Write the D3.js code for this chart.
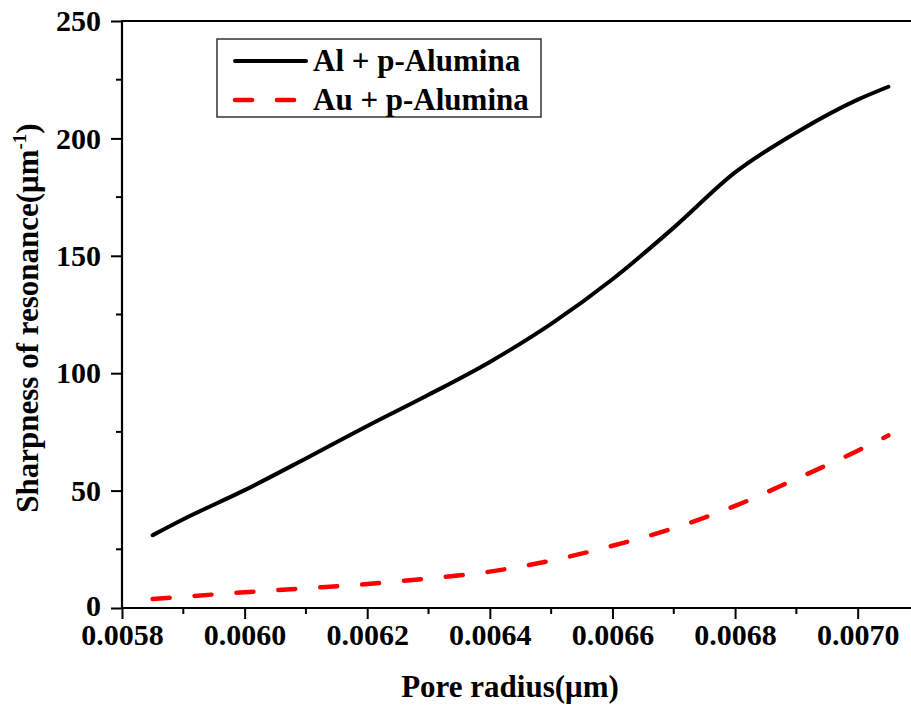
<!DOCTYPE html>
<html>
<head>
<meta charset="utf-8">
<script src="https://cdn.jsdelivr.net/npm/d3@7"></script>
<style>
  html, body { margin: 0; padding: 0; background: #fff; }
  svg { display: block; }
  text { font-family: "Liberation Serif", "Times New Roman", serif; font-weight: bold; fill: #000; }
</style>
</head>
<body>
<svg id="chart" width="911" height="706"></svg>
<script>
// Data
const poreRadius = [0.00585, 0.0059, 0.0060, 0.0061, 0.0062, 0.0063, 0.0064, 0.0065, 0.0066, 0.0067, 0.0068, 0.0069, 0.0070, 0.00705];
const alAlumina  = [31, 37.8, 50.2, 63.7, 77.5, 90.8, 104.8, 121, 140, 162, 185.5, 202.5, 216.5, 222];
const auAlumina  = [3.8, 4.8, 6.7, 8.4, 10.2, 12.6, 15.5, 20.2, 26.5, 34, 43.5, 55, 67, 73.5];
const seriesNames = ["Al + p-Alumina", "Au + p-Alumina"];
const xMajorTicks = [0.0058, 0.0060, 0.0062, 0.0064, 0.0066, 0.0068, 0.0070];
const xMinorTicks = [0.0059, 0.0061, 0.0063, 0.0065, 0.0067, 0.0069];
const yMajorTicks = [0, 50, 100, 150, 200, 250];
const yMinorTicks = [25, 75, 125, 175, 225];
const xTitle = "Pore radius(μm)";
const yTitle = "Sharpness of resonance(μm";

const svg = d3.select("#chart");
const mLeft = 122, mRight = 919, mTop = 21, mBottom = 608;

const x = d3.scaleLinear().domain([0.0058, 0.0071]).range([mLeft, mRight]);
const y = d3.scaleLinear().domain([0, 250]).range([mBottom, mTop]);

const FS = 30;   // tick labels
const TFS = 31;  // titles & legend

// Top frame line
svg.append("line").attr("x1", mLeft).attr("x2", 911).attr("y1", mTop).attr("y2", mTop)
  .attr("stroke", "#000").attr("stroke-width", 2.2);

// X axis
const xAxis = svg.append("g").attr("transform", `translate(0,${mBottom})`)
  .call(d3.axisBottom(x).tickValues(xMajorTicks).tickSize(11).tickPadding(5).tickFormat(d3.format(".4f")));
xAxis.select(".domain").remove();
xAxis.append("line").attr("x1", mLeft - 1).attr("x2", 911).attr("y1", 0).attr("y2", 0)
  .attr("stroke", "#000").attr("stroke-width", 2.2);
xAxis.selectAll(".tick line").attr("stroke-width", 2);
xAxis.selectAll(".tick text").attr("font-size", FS).attr("font-family", "Liberation Serif").attr("font-weight", "bold").attr("fill", "#000");
svg.append("g").selectAll("line").data(xMinorTicks).join("line")
  .attr("x1", d => x(d)).attr("x2", d => x(d)).attr("y1", mBottom).attr("y2", mBottom + 6)
  .attr("stroke", "#000").attr("stroke-width", 2);

// Y axis
const yAxis = svg.append("g").attr("transform", `translate(${mLeft},0)`)
  .call(d3.axisLeft(y).tickValues(yMajorTicks).tickSize(11).tickPadding(10));
yAxis.select(".domain").remove();
yAxis.append("line").attr("x1", 0).attr("x2", 0).attr("y1", mTop - 1).attr("y2", mBottom + 1)
  .attr("stroke", "#000").attr("stroke-width", 2.2);
yAxis.selectAll(".tick line").attr("stroke-width", 2);
yAxis.selectAll(".tick text").attr("font-size", FS).attr("font-family", "Liberation Serif").attr("font-weight", "bold").attr("fill", "#000");
yAxis.selectAll(".tick text").filter(d => d === 0).attr("dy", "0.25em");
svg.append("g").selectAll("line").data(yMinorTicks).join("line")
  .attr("x1", mLeft - 6).attr("x2", mLeft).attr("y1", d => y(d)).attr("y2", d => y(d))
  .attr("stroke", "#000").attr("stroke-width", 2);

// Axis titles
svg.append("text").attr("x", 510).attr("y", 697).attr("text-anchor", "middle")
  .attr("font-size", TFS).text(xTitle);

const yt = svg.append("text").attr("transform", "translate(38,318) rotate(-90)")
  .attr("text-anchor", "middle").attr("font-size", TFS);
yt.append("tspan").text(yTitle);
yt.append("tspan").attr("font-size", 19).attr("dy", -12).text("-1");
yt.append("tspan").attr("dy", 12).text(")");

// Lines
const line = d3.line().x(d => x(d[0])).y(d => y(d[1])).curve(d3.curveMonotoneX);
svg.append("path").datum(poreRadius.map((r, i) => [r, alAlumina[i]]))
  .attr("d", line).attr("fill", "none").attr("stroke", "#000").attr("stroke-width", 4)
  .attr("stroke-linecap", "round");
svg.append("path").datum(poreRadius.map((r, i) => [r, auAlumina[i]]))
  .attr("d", line).attr("fill", "none").attr("stroke", "#ff0000").attr("stroke-width", 4.5)
  .attr("stroke-dasharray", "17,25").attr("stroke-linecap", "round");

// Legend
const lg = svg.append("g");
lg.append("rect").attr("x", 217).attr("y", 39).attr("width", 324).attr("height", 78)
  .attr("fill", "#fff").attr("stroke", "#333").attr("stroke-width", 1.5);
lg.append("line").attr("x1", 235).attr("x2", 306).attr("y1", 61).attr("y2", 61)
  .attr("stroke", "#000").attr("stroke-width", 4).attr("stroke-linecap", "round");
lg.append("line").attr("x1", 235).attr("x2", 300).attr("y1", 100).attr("y2", 100)
  .attr("stroke", "#ff0000").attr("stroke-width", 4.5).attr("stroke-dasharray", "17,25").attr("stroke-linecap", "round");
lg.append("text").attr("x", 313).attr("y", 71).attr("font-size", TFS).text(seriesNames[0]);
lg.append("text").attr("x", 313).attr("y", 110).attr("font-size", TFS).text(seriesNames[1]);
</script>
</body>
</html>
